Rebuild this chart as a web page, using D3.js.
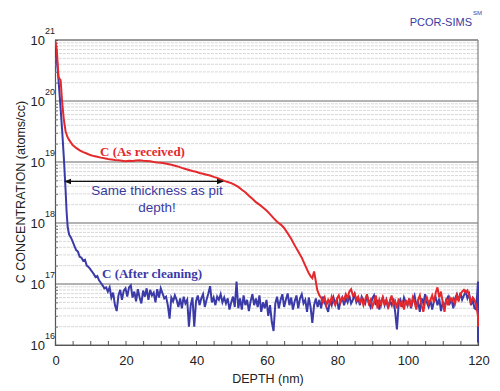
<!DOCTYPE html>
<html><head><meta charset="utf-8">
<script src="https://cdn.jsdelivr.net/npm/d3@7"></script>
<style>body{margin:0;background:#fff}svg{display:block}</style>
</head><body>
<svg id="c" width="500" height="391"></svg>
<script>
const xTicks = [0, 20, 40, 60, 80, 100, 120];
const yDecades = [16, 17, 18, 19, 20, 21];

// C (As received): [depth nm, concentration atoms/cc]
const redHead = [[0,1e21],[0.5,7e20],[1,2.5e20],[1.3,2.3e20],[1.6,2.2e20],[2,1.0e20],[2.5,5e19],[3,3.2e19],[3.5,2.6e19],[4,2.3e19],[5,1.9e19],[6,1.7e19],[7,1.55e19],[8,1.45e19],[9,1.38e19],[10,1.3e19],[11,1.25e19],[12,1.22e19],[13,1.18e19],[14,1.15e19],[15,1.12e19],[16,1.1e19],[17,1.08e19],[18,1.07e19],[19,1.05e19],[20,1.03e19],[21,1.05e19],[22,1.04e19],[23,1.06e19],[24,1.07e19],[25,1.05e19],[26,1.04e19],[27,1.03e19],[28,1.0e19],[29,9.8e18],[30,9.7e18],[31,9.5e18],[32,9.3e18],[33,9.0e18],[34,8.7e18],[35,8.4e18],[36,8.0e18],[37,7.7e18],[38,7.4e18],[39,7.1e18],[40,6.9e18],[41,6.6e18],[42,6.4e18],[43,6.2e18],[44,6.0e18],[45,5.7e18],[46,5.5e18],[47,5.2e18],[48,4.9e18],[49,4.7e18],[50,4.5e18],[51,4.2e18],[52,3.9e18],[53,3.5e18],[54,3.2e18],[55,2.8e18],[56,2.5e18],[57,2.2e18],[58,2.0e18],[59,1.8e18],[60,1.6e18],[61,1.4e18],[62,1.2e18],[63,1.05e18],[64,9.5e17],[65,8.3e17],[66,6.8e17],[67,5.5e17],[68,4.3e17],[69,3.4e17],[70,2.7e17],[71,2.0e17],[72,1.5e17],[72.5,1.35e17],[73,1.25e17],[73.5,1.6e17],[74,1.1e17],[74.4,8e16],[75,6.5e16],[75.5,6.0e16]];
// noisy tail from 76 nm, step 0.5 nm
const redTailStart = 76;
const redTail = [5.0e16,6.0e16,4.5e16,5.5e16,4.8e16,6.2e16,5.2e16,4.5e16,5.8e16,6.5e16,5.0e16,6.0e16,5.5e16,6.8e16,5.8e16,7.5e16,8.2e16,6.5e16,7.0e16,5.5e16,6.2e16,5.0e16,5.8e16,4.5e16,5.5e16,6.8e16,4.8e16,5.5e16,4.2e16,5.0e16,6.5e16,4.0e16,5.5e16,4.5e16,6.0e16,4.8e16,5.5e16,4.2e16,5.2e16,6.5e16,4.5e16,5.2e16,4.0e16,5.8e16,4.5e16,5.0e16,3.8e16,5.5e16,4.5e16,5.8e16,4.2e16,6.0e16,5.0e16,3.8e16,5.5e16,6.5e16,4.5e16,3.5e16,5.2e16,6.0e16,4.8e16,5.5e16,6.5e16,5.0e16,7.2e16,8.8e16,6.0e16,7.5e16,5.0e16,3.5e16,5.8e16,4.5e16,6.0e16,5.2e16,5.8e16,4.8e16,6.5e16,5.5e16,6.8e16,7.5e16,8.0e16,7.2e16,7.8e16,6.5e16,5.0e16,6.0e16,5.5e16,4.5e16,3.0e16];
const redEnd = [[120,2.0e16]];

// C (After cleaning)
const blueHead = [[0,1e21],[0.5,5e20],[1,2.2e20],[1.5,9e19],[2,3.5e19],[2.5,1.2e19],[3,3.5e18],[3.3,1.5e18],[3.6,8.5e17],[4,6.5e17],[4.5,5.8e17],[5,5.0e17],[5.5,4.2e17],[6,3.6e17],[6.5,3.4e17],[7,2.8e17],[7.5,2.7e17],[8,2.4e17],[8.5,2.5e17],[9,2.0e17],[9.5,1.9e17],[10,1.75e17],[10.5,1.6e17],[11,1.45e17],[11.5,1.3e17],[12,1.35e17],[12.5,1.15e17],[13,1.05e17],[13.5,9.5e16],[14,8.5e16],[14.5,8.8e16]];
const blueTailStart = 15;
const blueTail = [7.5e16,8.8e16,6.0e16,7.2e16,4.5e16,3.6e16,6.5e16,8.0e16,5.5e16,7.8e16,8.5e16,6.2e16,8.8e16,9.5e16,6.0e16,7.5e16,5.2e16,8.2e16,6.0e16,4.8e16,7.8e16,6.2e16,8.5e16,5.5e16,8.0e16,6.5e16,7.2e16,5.0e16,8.2e16,6.0e16,8.5e16,7.0e16,5.8e16,6.2e16,4.5e16,2.7e16,6.0e16,5.2e16,6.5e16,5.5e16,4.2e16,5.8e16,4.0e16,6.2e16,4.8e16,5.5e16,2.0e16,4.5e16,6.0e16,2.0e16,5.2e16,6.5e16,4.5e16,5.8e16,6.8e16,4.2e16,5.5e16,7.0e16,9.2e16,5.0e16,6.0e16,4.5e16,6.2e16,5.5e16,6.8e16,5.0e16,6.0e16,4.8e16,5.8e16,3.8e16,5.0e16,6.2e16,4.2e16,1.1e17,4.0e16,5.8e16,3.8e16,6.5e16,4.5e16,5.5e16,3.6e16,5.2e16,6.8e16,4.5e16,5.8e16,4.2e16,6.5e16,3.5e16,5.0e16,4.0e16,5.5e16,3.0e16,4.5e16,2.4e16,1.7e16,4.8e16,6.2e16,4.0e16,5.5e16,6.8e16,4.2e16,5.5e16,7.0e16,4.5e16,6.0e16,3.8e16,5.2e16,6.5e16,4.0e16,5.8e16,6.8e16,4.8e16,5.5e16,3.5e16,6.0e16,4.2e16,2.3e16,4.5e16,5.8e16,4.2e16,5.5e16,4.0e16,6.2e16,5.0e16,4.2e16,3.5e16,5.5e16,4.5e16,6.0e16,4.8e16,5.5e16,3.8e16,5.2e16,6.0e16,4.5e16,5.8e16,5.0e16,6.5e16,4.8e16,5.5e16,6.8e16,5.0e16,5.8e16,4.5e16,6.2e16,5.5e16,4.8e16,6.5e16,5.0e16,4.2e16,5.8e16,6.5e16,4.5e16,5.5e16,3.8e16,5.2e16,6.0e16,4.5e16,5.5e16,4.0e16,5.2e16,4.5e16,5.8e16,3.5e16,1.8e16,4.8e16,5.5e16,4.2e16,6.0e16,5.0e16,4.5e16,5.8e16,4.0e16,5.5e16,6.5e16,4.5e16,5.2e16,3.5e16,5.8e16,4.8e16,6.8e16,5.0e16,4.2e16,5.5e16,3.8e16,5.2e16,6.0e16,4.5e16,5.8e16,3.6e16,5.0e16,4.2e16,5.5e16,6.2e16,4.8e16,5.5e16,4.0e16,5.8e16,6.8e16,5.2e16,7.2e16,5.5e16,6.5e16,7.5e16,5.8e16,6.8e16,4.5e16,5.5e16,4.0e16,3.8e16,1.1e17];
const blueEnd = [[120,1.1e16]];

const svg = d3.select("#c");
const M = {l:55, r:478, t:40, b:345};
const x = d3.scaleLinear().domain([0,120]).range([M.l, M.r]);
const y = d3.scaleLog().domain([1e16,1e21]).range([M.b, M.t]);

function build(head, start, tail, end){
  return head.concat(tail.map((v,i)=>[start+i*0.5, v]), end);
}
const red = build(redHead, redTailStart, redTail, redEnd);
const blue = build(blueHead, blueTailStart, blueTail, blueEnd);

// grid
const minorVals = [];
for (let e=16; e<21; e++) for (let m=2; m<10; m++) minorVals.push(m*Math.pow(10,e));
svg.append("g").selectAll("line").data(minorVals).join("line")
  .attr("x1",M.l).attr("x2",M.r).attr("y1",d=>y(d)).attr("y2",d=>y(d))
  .attr("stroke","#cfcfcf").attr("stroke-width",0.8).attr("stroke-dasharray","3,1");
svg.append("g").selectAll("line").data(yDecades.map(e=>Math.pow(10,e))).join("line")
  .attr("x1",M.l).attr("x2",M.r).attr("y1",d=>y(d)).attr("y2",d=>y(d))
  .attr("stroke","#9a9a9a").attr("stroke-width",1.6);

// frame
svg.append("line").attr("x1",M.r).attr("x2",M.r).attr("y1",M.t).attr("y2",M.b).attr("stroke","#808080").attr("stroke-width",1.2);
svg.append("line").attr("x1",M.l).attr("x2",M.r).attr("y1",M.t).attr("y2",M.t).attr("stroke","#808080").attr("stroke-width",1.2);

// axes
const xAxis = d3.axisBottom(x).tickValues(d3.range(0,121,5)).tickSize(-4).tickFormat("");
svg.append("g").attr("transform",`translate(0,${M.b})`).call(xAxis)
  .call(g=>{g.select(".domain").attr("stroke","#555").attr("stroke-width",1.2);g.selectAll(".tick line").attr("stroke","#555");});
svg.append("g").selectAll("text").data(xTicks).join("text")
  .attr("x",d=>x(d)+1).attr("y",365).attr("text-anchor","middle")
  .attr("font-family","Liberation Sans, Arial, sans-serif").attr("font-size",13).attr("fill","#222").text(d=>d);

const yAxis = d3.axisLeft(y).tickValues(minorVals).tickSize(-3).tickFormat("");
svg.append("g").attr("transform",`translate(${M.l},0)`).call(yAxis)
  .call(g=>{g.select(".domain").attr("stroke","#555").attr("stroke-width",1.2);g.selectAll(".tick line").attr("stroke","#777");});

const yl = svg.append("g").selectAll("g").data(yDecades).join("g");
yl.append("text").attr("x",45).attr("y",d=>y(Math.pow(10,d))+5).attr("text-anchor","end")
  .attr("font-family","Liberation Sans, Arial, sans-serif").attr("font-size",13).attr("fill","#222").text("10");
yl.append("text").attr("x",45).attr("y",d=>y(Math.pow(10,d))-6)
  .attr("font-family","Liberation Sans, Arial, sans-serif").attr("font-size",9).attr("fill","#222").text(d=>d);

// axis titles
svg.append("text").attr("transform","translate(25,192) rotate(-90)").attr("text-anchor","middle")
  .attr("font-family","Liberation Sans, Arial, sans-serif").attr("font-size",12.5).attr("fill","#222")
  .text("C CONCENTRATION (atoms/cc)");
svg.append("text").attr("x",268).attr("y",383).attr("text-anchor","middle")
  .attr("font-family","Liberation Sans, Arial, sans-serif").attr("font-size",12.5).attr("fill","#222")
  .text("DEPTH (nm)");

// lines
svg.append("clipPath").attr("id","clip").append("rect").attr("x",M.l).attr("y",M.t-1).attr("width",M.r-M.l+2).attr("height",M.b-M.t+1);
const line = d3.line().x(d=>x(d[0])).y(d=>y(d[1]));
svg.append("path").datum(blue).attr("d",line).attr("fill","none").attr("stroke","#3a3aa8").attr("stroke-width",2).attr("clip-path","url(#clip)");
svg.append("path").datum(red).attr("d",line).attr("fill","none").attr("stroke","#e4282c").attr("stroke-width",2).attr("clip-path","url(#clip)");

// annotations
const defs = svg.append("defs");
defs.append("marker").attr("id","ah").attr("viewBox","0 0 10 10").attr("refX",9).attr("refY",5)
  .attr("markerWidth",6).attr("markerHeight",6).attr("orient","auto-start-reverse")
  .append("path").attr("d","M0,1 L10,5 L0,9 Z").attr("fill","#111");
const arrowDepth = [2.8, 47.7], arrowConc = 4.8e18;
svg.append("line").attr("x1",x(arrowDepth[0])).attr("x2",x(arrowDepth[1])).attr("y1",y(arrowConc)).attr("y2",y(arrowConc))
  .attr("stroke","#111").attr("stroke-width",1.2).attr("marker-start","url(#ah)").attr("marker-end","url(#ah)");

svg.append("text").attr("x",100).attr("y",156).attr("font-family","Liberation Serif, Times New Roman, serif")
  .attr("font-weight","bold").attr("font-size",13).attr("fill","#e4282c").text("C (As received)");
svg.append("text").attr("x",102).attr("y",278).attr("font-family","Liberation Serif, Times New Roman, serif")
  .attr("font-weight","bold").attr("font-size",13).attr("fill","#3a3aa8").text("C (After cleaning)");
svg.append("text").attr("x",157).attr("y",195).attr("text-anchor","middle").attr("font-family","Liberation Sans, Arial, sans-serif")
  .attr("font-size",13.5).attr("fill","#3a3aa0").text("Same thickness as pit");
svg.append("text").attr("x",157).attr("y",212).attr("text-anchor","middle").attr("font-family","Liberation Sans, Arial, sans-serif")
  .attr("font-size",13.5).attr("fill","#3a3aa0").text("depth!");

svg.append("text").attr("x",472).attr("y",26).attr("text-anchor","end").attr("font-family","Liberation Sans, Arial, sans-serif")
  .attr("font-size",11).attr("fill","#3a3aa0").text("PCOR-SIMS");
svg.append("text").attr("x",473).attr("y",15).attr("font-family","Liberation Sans, Arial, sans-serif")
  .attr("font-size",6).attr("fill","#3a3aa0").text("SM");
</script>
</body></html>
